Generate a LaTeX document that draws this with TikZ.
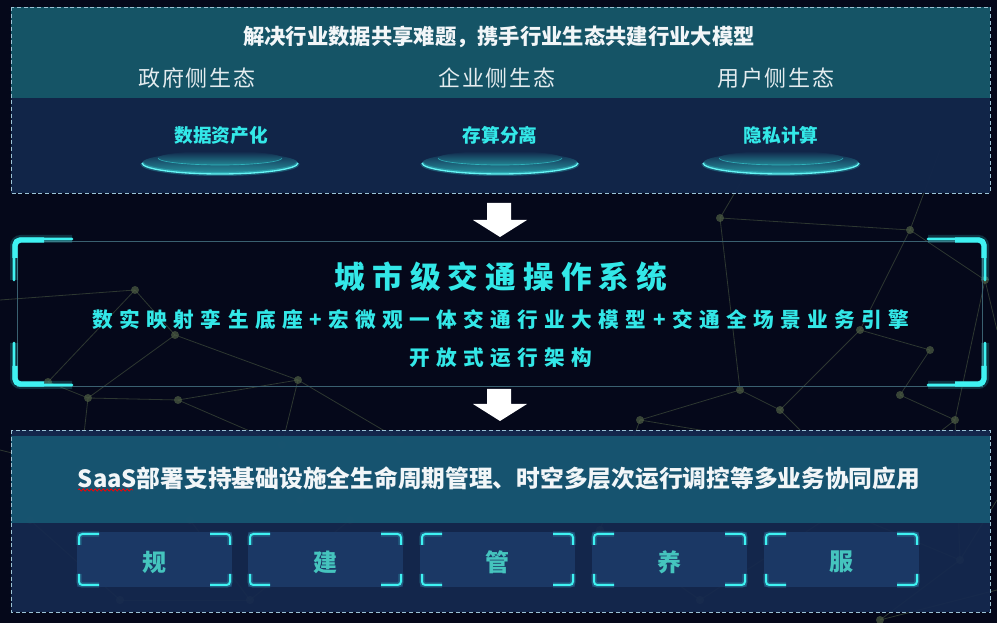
\documentclass[tikz,border=0pt]{standalone}
\usepackage{fontspec}
\setmainfont{Noto Sans CJK SC}
\usetikzlibrary{decorations.pathmorphing}
\definecolor{bgc}{HTML}{05081A}
\definecolor{tealband}{HTML}{155466}
\definecolor{darkband}{HTML}{12264A}
\definecolor{tealband2}{HTML}{175671}
\definecolor{darkband2}{HTML}{15294F}
\definecolor{cyantext}{HTML}{33E8E8}
\definecolor{boxfill}{HTML}{1C3A68}
\definecolor{boxtext}{HTML}{45C4BE}
\definecolor{dashc}{HTML}{9CC3D6}
\definecolor{framec}{HTML}{3A6070}
\definecolor{whitet}{HTML}{F2F6F8}
\definecolor{greyt}{HTML}{E4ECEF}
\definecolor{netc}{HTML}{4E5E44}
\definecolor{glowc}{HTML}{3FF2F2}
\makeatletter
\newcommand\spacedtxt[2]{\def\sp@g{#1}\@tfor\sp@c:=#2\do{\sp@c\hspace{\sp@g}}\unskip}
\makeatother
\tikzset{
  panelborder/.style={draw=dashc, dashed, line width=0.6pt, dash pattern=on 3pt off 2pt},
  toptitle/.style={text=whitet, font=\fontsize{16pt}{18pt}\selectfont\bfseries, inner sep=0pt},
  ecolabel/.style={text=greyt, font=\fontsize{16.5pt}{18pt}\selectfont, inner sep=0pt},
  techlabel/.style={text=cyantext, font=\fontsize{14pt}{16pt}\selectfont\bfseries, inner sep=0pt},
  bigtitle/.style={text=cyantext, font=\fontsize{23pt}{26pt}\selectfont\bfseries, inner sep=0pt},
  subline/.style={text=cyantext, font=\fontsize{15.5pt}{18pt}\selectfont\bfseries, inner sep=0pt},
  bottitle/.style={text=whitet, font=\fontsize{17.8pt}{21pt}\selectfont\bfseries, inner sep=0pt},
  boxlabel/.style={text=boxtext, font=\fontsize{18pt}{20pt}\selectfont\bfseries, inner sep=0pt},
  bigbracket/.style={draw=glowc, line width=2.2pt, rounded corners=5pt, line cap=round},
  bigglow/.style={draw=glowc, line width=6pt, opacity=0.18, rounded corners=5pt},
  smallbracket/.style={draw=glowc, line width=1.5pt, rounded corners=2.5pt},
  smallglow/.style={draw=glowc, line width=4pt, opacity=0.2, rounded corners=2.5pt},
  netline/.style={draw=netc, line width=0.6pt, opacity=0.55},
  netdot/.style={fill=netc, opacity=0.7},
  downarrow/.style={fill=white, draw=none},
}
\begin{document}
\begin{tikzpicture}[x=0.75pt,y=-0.75pt]
\useasboundingbox (0,0) rectangle (997,623);
\fill[bgc] (0,0) rectangle (997,623);

% ---- background network (decoration) ----
\foreach \a/\b in {135/290, 175/335, 48/382, 88/398, 178/400, 298/380, 282/445, 300/500, 80/470, 30/520, 190/520, 250/600, 120/600, 400/440, 350/520, 720/218, 740/390, 780/410, 860/330, 900/395, 930/350, 955/420, 985/280, 640/420, 840/510, 960/560, 700/600, 880/620, 910/230, 820/450, 600/530}
  \fill[netdot] (\a,\b) circle (4);
\foreach \a/\b/\c/\d in {135/290/175/335, 135/290/48/382, 175/335/298/380, 175/335/88/398, 48/382/88/398, 88/398/178/400, 178/400/298/380, 178/400/282/445, 298/380/282/445, 282/445/300/500, 88/398/80/470, 80/470/30/520, 80/470/190/520, 190/520/300/500, 190/520/250/600, 30/520/120/600, 120/600/250/600, 300/500/400/440, 400/440/350/520, 350/520/250/600, 0/300/135/290, 0/450/80/470, 298/380/400/440, 720/218/740/390, 740/390/780/410, 780/410/860/330, 860/330/930/350, 930/350/900/395, 900/395/955/420, 955/420/985/280, 985/280/910/230, 910/230/860/330, 910/230/720/218, 640/420/740/390, 640/420/820/450, 820/450/780/410, 820/450/840/510, 840/510/955/420, 840/510/960/560, 960/560/880/620, 840/510/700/600, 700/600/600/530, 600/530/640/420, 960/560/997/500, 985/280/997/330, 880/620/997/590, 720/218/760/150, 910/230/940/150, 960/560/955/420}
  \draw[netline] (\a,\b) -- (\c,\d);

% ---- top panel ----
\fill[darkband, opacity=0.97] (11,7) rectangle (990,193);
\fill[tealband] (11,7) rectangle (990,98);
\draw[panelborder] (11,7) rectangle (990,193);

\node[toptitle] (toptitle) at (499,37) {解决行业数据共享难题，携手行业生态共建行业大模型};
\node[ecolabel] (eco1) at (197,78) {\spacedtxt{1.2pt}{政府侧生态}};
\node[ecolabel] (eco2) at (497,78) {\spacedtxt{1.2pt}{企业侧生态}};
\node[ecolabel] (eco3) at (776,78) {\spacedtxt{1.2pt}{用户侧生态}};

% discs
\foreach \cx/\nm in {220/d1, 500/d2, 781/d3}{
  \shade[top color=darkband, bottom color=glowc!55!tealband, opacity=0.85] (\cx,163) ellipse [x radius=78, y radius=11];
  \shade[top color=darkband, bottom color=glowc!40!tealband, opacity=0.7] (\cx,158) ellipse [x radius=62, y radius=7];
  \draw[glowc, line width=3pt, opacity=0.25] (\cx-78,163) arc[start angle=180, end angle=360, x radius=78, y radius=-11];
  \draw[glowc!80!white, line width=1pt] (\cx-78,163) arc[start angle=180, end angle=360, x radius=78, y radius=-11];
  \draw[glowc, line width=0.5pt, opacity=0.5] (\cx-62,158) arc[start angle=180, end angle=360, x radius=62, y radius=-7];
  \coordinate (\nm) at (\cx,163);
}
\node[techlabel] (tech1) at (221,135) {数据资产化};
\node[techlabel] (tech2) at (500,135) {存算分离};
\node[techlabel] (tech3) at (781,135) {隐私计算};

% ---- arrow 1 ----
\fill[downarrow] (487,203) -- (511,203) -- (511,220) -- (527,220) -- (500,237) -- (473,220) -- (487,220) -- cycle;

% ---- middle frame ----
\draw[framec, line width=0.6pt] (17,241) rectangle (982,386);
\draw[bigglow] (14,280) -- (14,239) -- (72,239);
\draw[bigglow] (985,280) -- (985,239) -- (928,239);
\draw[bigglow] (14,343) -- (14,385) -- (72,385);
\draw[bigglow] (985,343) -- (985,385) -- (928,385);
\draw[bigbracket] (14,280) -- (14,239) -- (72,239);
\draw[bigbracket] (985,280) -- (985,239) -- (928,239);
\draw[bigbracket] (14,343) -- (14,385) -- (72,385);
\draw[bigbracket] (985,343) -- (985,385) -- (928,385);
\draw[draw=glowc, line width=4pt, rounded corners=4pt] (15,258) -- (15,240) -- (44,240);
\draw[draw=glowc, line width=4pt, rounded corners=4pt] (984,258) -- (984,240) -- (955,240);
\draw[draw=glowc, line width=4pt, rounded corners=4pt] (15,366) -- (15,384) -- (44,384);
\draw[draw=glowc, line width=4pt, rounded corners=4pt] (984,366) -- (984,384) -- (955,384);

\node[bigtitle] (ostitle) at (501,277) {\spacedtxt{5.3pt}{城市级交通操作系统}};
\node[subline] (osline1) at (501,320) {\spacedtxt{4.8pt}{数实映射孪生底座+宏微观一体交通行业大模型+交通全场景业务引擎}};
\node[subline] (osline2) at (501,358) {\spacedtxt{4.8pt}{开放式运行架构}};

% ---- arrow 2 ----
\fill[downarrow] (487,389) -- (511,389) -- (511,404) -- (527,404) -- (500,421) -- (473,404) -- (487,404) -- cycle;

% ---- bottom panel ----
\fill[darkband2, opacity=0.93] (11,430) rectangle (990,612);
\fill[tealband2, opacity=0.95] (11,436) rectangle (990,523);
\draw[panelborder] (11,430) rectangle (990,612);

\node[bottitle] (saas) at (499,478) {SaaS部署支持基础设施全生命周期管理、时空多层次运行调控等多业务协同应用};
\draw[red, line width=0.5pt, decorate, decoration={snake, amplitude=0.9pt, segment length=3pt}] (78,490) -- (133,490);

\foreach \x/\t/\nm in {77/规/b1, 248/建/b2, 420/管/b3, 592/养/b4, 764/服/b5}{
  \fill[boxfill, opacity=0.9] (\x,532) rectangle ++(155,55);
  \draw[smallglow] (\x+2,545) -- (\x+2,534) -- (\x+22,534);
  \draw[smallglow] (\x+153,545) -- (\x+153,534) -- (\x+133,534);
  \draw[smallglow] (\x+2,574) -- (\x+2,585) -- (\x+22,585);
  \draw[smallglow] (\x+153,574) -- (\x+153,585) -- (\x+133,585);
  \draw[smallbracket] (\x+2,545) -- (\x+2,534) -- (\x+22,534);
  \draw[smallbracket] (\x+153,545) -- (\x+153,534) -- (\x+133,534);
  \draw[smallbracket] (\x+2,574) -- (\x+2,585) -- (\x+22,585);
  \draw[smallbracket] (\x+153,574) -- (\x+153,585) -- (\x+133,585);
  \node[boxlabel] (\nm) at (\x+77.5,562) {\t};
}
\end{tikzpicture}
\end{document}
